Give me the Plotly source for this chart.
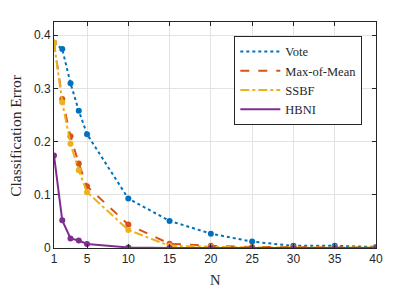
import plotly.graph_objects as go

N = [1, 2, 3, 4, 5, 10, 15, 20, 25, 30, 35, 40]
vote = [0.386, 0.374, 0.310, 0.258, 0.214, 0.093, 0.051, 0.027, 0.012, 0.004, 0.004, 0.002]
max_of_mean = [0.386, 0.280, 0.210, 0.159, 0.116, 0.044, 0.008, 0.004, 0.002, 0.001, 0.001, 0.001]
ssbf = [0.386, 0.274, 0.196, 0.146, 0.105, 0.034, 0.004, 0.002, 0.001, 0.001, 0.001, 0.001]
hbni = [0.174, 0.052, 0.018, 0.014, 0.0075, 0.001, 0.0, 0.0, 0.0, 0.0, 0.0, 0.0]

x_ticks = [1, 5, 10, 15, 20, 25, 30, 35, 40]
y_ticks = [0, 0.1, 0.2, 0.3, 0.4]
y_tick_text = ["0", "0.1", "0.2", "0.3", "0.4"]

series = [
    ("Vote", vote, "#0072BD", "dot"),
    ("Max-of-Mean", max_of_mean, "#D95319", "dash"),
    ("SSBF", ssbf, "#EDB120", "dashdot"),
    ("HBNI", hbni, "#7E2F8E", "solid"),
]

fig = go.Figure()
for name, vals, color, dash in series:
    fig.add_trace(go.Scatter(
        x=N, y=vals, name=name, mode="lines+markers", showlegend=False,
        line=dict(color=color, width=2, dash=dash),
        marker=dict(color=color, size=6),
    ))
# legend entries (lines only, as in the reference)
for name, vals, color, dash in series:
    fig.add_trace(go.Scatter(
        x=[None], y=[None], name=name, mode="lines",
        line=dict(color=color, width=2, dash=dash),
    ))

axis_common = dict(
    showline=True, linecolor="#262626", linewidth=1, mirror="ticks",
    ticks="inside", ticklen=4, tickcolor="#262626", automargin=False,
    showgrid=True, gridcolor="#e3e3e3", gridwidth=1, zeroline=False,
    tickfont=dict(family="Liberation Sans, Arial", size=12, color="#262626"),
)

serif = "Liberation Serif, serif"
# the page body adds an 8px offset, so the figure is 8px smaller than the window
fig.update_layout(
    width=407, height=283,
    margin=dict(l=46, r=39, t=14, b=43, autoexpand=False),
    paper_bgcolor="white", plot_bgcolor="white",
    xaxis=dict(range=[1, 40], tickvals=x_ticks, **axis_common),
    yaxis=dict(range=[0, 0.425], tickvals=y_ticks, ticktext=y_tick_text, **axis_common),
    legend=dict(x=0.9575, y=0.939, xanchor="right", yanchor="top",
                bgcolor="white", bordercolor="#262626", borderwidth=1,
                font=dict(family=serif, size=12.5, color="#262626"),
                tracegroupgap=0, itemwidth=40),
    annotations=[
        dict(text="N", xref="paper", yref="paper", x=0.5, y=-0.14,
             xanchor="center", yanchor="middle", showarrow=False,
             font=dict(family=serif, size=14.5, color="#262626")),
        dict(text="Classification Error", xref="paper", yref="paper", x=-0.1216, y=0.5,
             xanchor="center", yanchor="middle", textangle=-90, showarrow=False,
             font=dict(family=serif, size=15.5, color="#262626")),
    ],
)

fig.write_html("out.html")
